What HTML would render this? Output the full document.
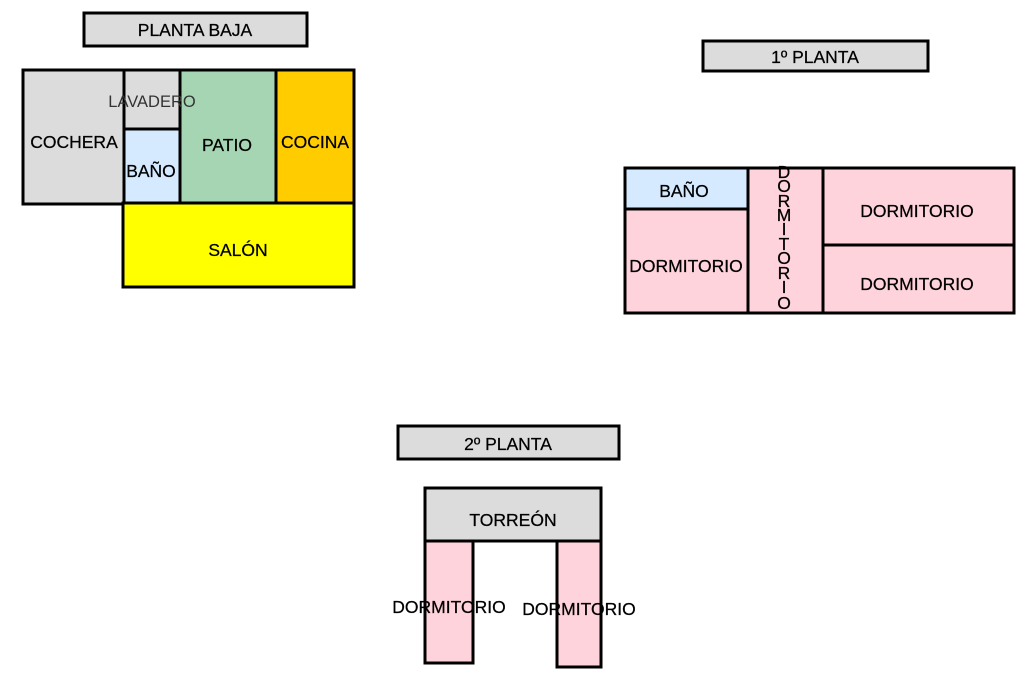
<!DOCTYPE html>
<html><head><meta charset="utf-8"><style>
html,body{margin:0;padding:0;background:#fff;}
svg{display:block;}
text{font-family:"Liberation Sans",Arial,sans-serif;font-size:17.5px;fill:#000;text-anchor:middle;dominant-baseline:central;stroke:#000;stroke-width:0.25px;}
</style></head><body>
<svg width="1024" height="682" viewBox="0 0 1024 682" xmlns="http://www.w3.org/2000/svg">
<g stroke="#000" stroke-width="3">
<rect x="84" y="13" width="223" height="33" fill="#dcdcdc"/>
<rect x="23" y="70" width="101" height="134" fill="#dcdcdc"/>
<rect x="124" y="70" width="56" height="59" fill="#dcdcdc"/>
<rect x="124" y="129" width="56" height="74" fill="#d6eaff"/>
<rect x="180" y="70" width="96" height="133" fill="#a6d5b4"/>
<rect x="276" y="70" width="78" height="133" fill="#ffcc00"/>
<rect x="123" y="203" width="231" height="84" fill="#ffff00"/>

<rect x="703" y="41" width="225" height="30" fill="#dcdcdc"/>
<rect x="625" y="168" width="123" height="41" fill="#d6eaff"/>
<rect x="625" y="209" width="123" height="104" fill="#ffd3dc"/>
<rect x="748" y="168" width="75" height="145" fill="#ffd3dc"/>
<rect x="823" y="168" width="191" height="77" fill="#ffd3dc"/>
<rect x="823" y="245" width="191" height="68" fill="#ffd3dc"/>

<rect x="398" y="426" width="221" height="33" fill="#dcdcdc"/>
<rect x="425" y="488" width="176" height="53" fill="#dcdcdc"/>
<rect x="425" y="541" width="48" height="122" fill="#ffd3dc"/>
<rect x="557" y="541" width="44" height="126" fill="#ffd3dc"/>
</g>
<text x="195" y="30">PLANTA BAJA</text>
<text x="74" y="142">COCHERA</text>
<text x="152" y="102" style="fill:#333;stroke:none;font-size:16.5px">LAVADERO</text>
<text x="151" y="171">BAÑO</text>
<text x="227" y="145">PATIO</text>
<text x="315" y="142">COCINA</text>
<text x="238" y="250">SALÓN</text>

<text x="815" y="57">1º PLANTA</text>
<text x="684" y="191">BAÑO</text>
<text x="686" y="266">DORMITORIO</text>
<text x="917" y="211">DORMITORIO</text>
<text x="917" y="284">DORMITORIO</text>
<g style="font-size:16px;fill:#222;stroke:none">
<text x="784" y="172">D</text><text x="784" y="186">O</text><text x="784" y="201">R</text><text x="784" y="215">M</text><text x="784" y="229">I</text><text x="784" y="244">T</text><text x="784" y="258">O</text><text x="784" y="273">R</text><text x="784" y="287">I</text><text x="784" y="303">O</text>
</g>

<text x="508" y="444">2º PLANTA</text>
<text x="513" y="520">TORREÓN</text>
<text x="449" y="607">DORMITORIO</text>
<text x="579" y="609">DORMITORIO</text>
</svg>
</body></html>
